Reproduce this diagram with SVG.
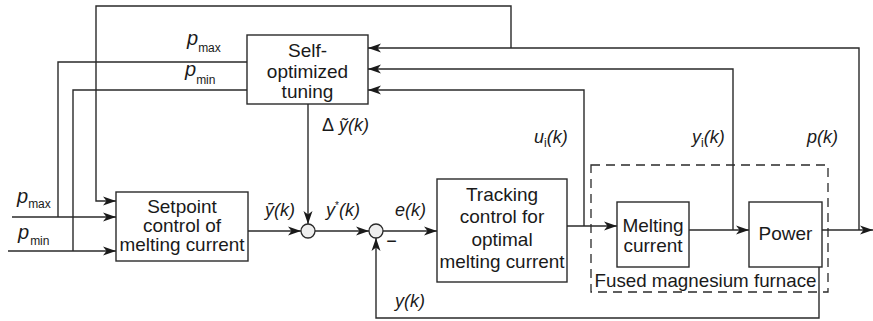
<svg xmlns="http://www.w3.org/2000/svg" width="873" height="321" viewBox="0 0 873 321">
<style>
.box{fill:#fff;stroke:#2a2a2a;stroke-width:1.4}
.ln{fill:none;stroke:#2a2a2a;stroke-width:1.4}
.arr{marker-end:url(#ah)}
.sum{fill:#eeeeee;stroke:#2a2a2a;stroke-width:1.3}
text{font-family:"Liberation Sans",Arial,sans-serif;fill:#1a1a1a}
.t{font-size:19px;text-anchor:middle}
.m{font-size:18px;font-style:italic}
.p{font-size:20px;font-style:italic}
.s{font-size:12px;font-style:normal}
</style>
<defs>
<marker id="ah" markerUnits="userSpaceOnUse" markerWidth="14" markerHeight="10" refX="13" refY="5" orient="auto">
<path d="M0,0.5 L13,5 L0,9.5 L3.5,5 z" fill="#1a1a1a"/>
</marker>
</defs>
<g id="connectors">
<path class="ln arr" d="M859,230 V48 H368"/>
<path class="ln arr" d="M511,48 V6 H96 V201 H116"/>
<path class="ln arr" d="M733,230 V69 H368"/>
<path class="ln arr" d="M584,226 V90 H368"/>
<path class="ln" d="M247,62 H58 V217"/>
<path class="ln arr" d="M12,217 H116"/>
<path class="ln" d="M247,90 H73 V251"/>
<path class="ln arr" d="M8,251 H116"/>
<path class="ln arr" d="M248,231 H301"/>
<path class="ln arr" d="M308,104 V224"/>
<path class="ln arr" d="M315,231 H369"/>
<path class="ln arr" d="M383,231 H437"/>
<path class="ln arr" d="M567,226 H617"/>
<path class="ln arr" d="M689,230 H749"/>
<path class="ln arr" d="M822,230 H873"/>
<path class="ln arr" d="M819,267 V318 H376 V238"/>
</g>
<g id="furnace">
<rect x="591" y="165" width="237" height="127" fill="none" stroke="#2a2a2a" stroke-width="1.3" stroke-dasharray="9,6"/>
<text class="t" x="705.5" y="287" textLength="222" lengthAdjust="spacingAndGlyphs">Fused magnesium furnace</text>
</g>
<g id="selfopt">
<rect class="box" x="247" y="35" width="121" height="69"/>
<text class="t" x="307.5" y="57">Self-</text>
<text class="t" x="307.5" y="78">optimized</text>
<text class="t" x="307.5" y="98">tuning</text>
</g>
<g id="setpoint">
<rect class="box" x="116" y="192" width="132" height="69"/>
<text class="t" x="182" y="213">Setpoint</text>
<text class="t" x="182" y="232">control of</text>
<text class="t" x="182" y="251" textLength="125" lengthAdjust="spacingAndGlyphs">melting current</text>
</g>
<g id="tracking">
<rect class="box" x="437" y="179" width="130" height="103"/>
<text class="t" x="502" y="201">Tracking</text>
<text class="t" x="502" y="223">control for</text>
<text class="t" x="502" y="246">optimal</text>
<text class="t" x="502" y="268" textLength="125" lengthAdjust="spacingAndGlyphs">melting current</text>
</g>
<g id="melting">
<rect class="box" x="617" y="202" width="72" height="65"/>
<text class="t" x="653" y="232">Melting</text>
<text class="t" x="653" y="252">current</text>
</g>
<g id="power">
<rect class="box" x="749" y="202" width="73" height="65"/>
<text class="t" x="785.5" y="240">Power</text>
</g>
<g id="sum1"><circle class="sum" cx="308" cy="231" r="7"/></g>
<g id="sum2"><circle class="sum" cx="376" cy="231" r="7"/></g>
<g id="labels">
<text class="p" x="187" y="45">p<tspan class="s" dx="0" dy="7">max</tspan></text>
<text class="p" x="185" y="76">p<tspan class="s" dx="0" dy="8">min</tspan></text>
<text class="p" x="17" y="203">p<tspan class="s" dx="0" dy="5">max</tspan></text>
<text class="p" x="18" y="239">p<tspan class="s" dx="1" dy="6">min</tspan></text>
<text class="m" x="322" y="131"><tspan font-style="normal">Δ</tspan> ỹ(k)</text>
<text class="m" x="265" y="216">ȳ(k)</text>
<text class="m" x="326" y="216">y<tspan font-size="10px" font-style="normal" dy="-7">*</tspan><tspan dy="7">(k)</tspan></text>
<text class="m" x="395" y="216">e(k)</text>
<text class="m" x="386" y="247" font-style="normal">−</text>
<text class="m" x="395" y="307">y(k)</text>
<text class="m" x="534" y="143">u<tspan class="s" font-size="10px" dy="4">i</tspan><tspan dy="-4">(k)</tspan></text>
<text class="m" x="692" y="143">y<tspan class="s" font-size="10px" dy="4">i</tspan><tspan dy="-4">(k)</tspan></text>
<text class="m" x="807" y="143">p(k)</text>
</g>
</svg>
